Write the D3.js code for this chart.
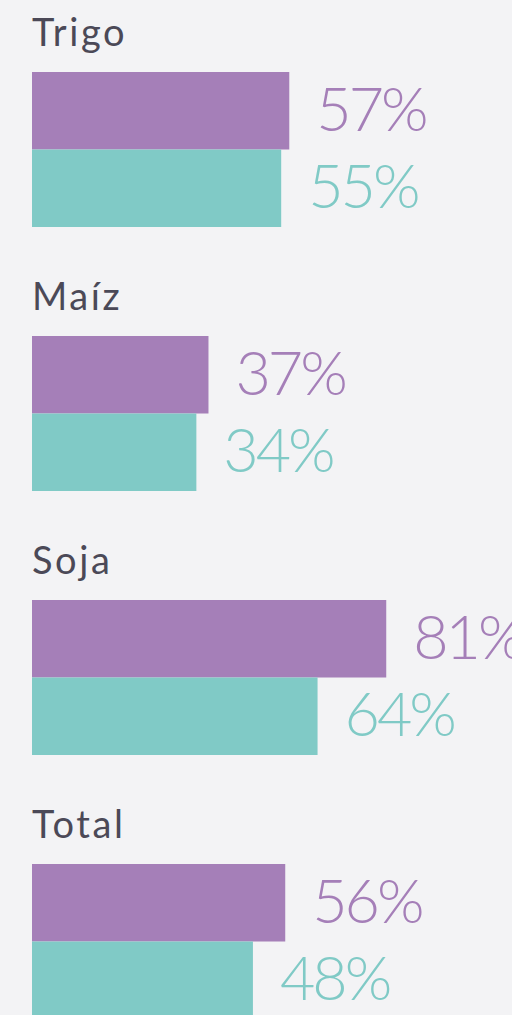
<!DOCTYPE html>
<meta charset="utf-8">
<style>
body { margin: 0; background: #f3f3f5; }
svg { display: block; background: #f3f3f5; }
.cat {
  font-family: Lato, sans-serif;
  font-size: 38px;
  fill: #4b4957;
  letter-spacing: 2.6px;
}
.pct {
  font-family: Lato, sans-serif;
  font-weight: 300;
  font-size: 61px;
  letter-spacing: -3px;
}
</style>
<body>
<div id="chart"></div>
<script src="https://cdn.jsdelivr.net/npm/d3@7"></script>
<script>

// values
var categories = ["Trigo", "Maíz", "Soja", "Total"];
var serieA = [57, 37, 81, 56];   // purple
var serieB = [55, 34, 64, 48];   // teal
var seriesKeys = ["a", "b"];
var colors = ["#a57fb8", "#80cac6"];

var width = 512, height = 1015,
    left = 32;

var svg = d3.select("#chart").append("svg")
    .attr("width", width)
    .attr("height", height);

var data = categories.map(function(c, i) {
  return {cat: c, values: [serieA[i], serieB[i]]};
});

// group position, one band per crop
var yGroup = d3.scaleBand()
    .domain(categories)
    .range([72, 72 + 264 * categories.length]);

// bars inside a group
var yBar = d3.scaleBand()
    .domain(seriesKeys)
    .range([0, 155]);

// bars don't start at zero length: 0% -> 27px
var x = d3.scaleLinear()
    .domain([0, 100])
    .range([27, 431]);

var group = svg.selectAll(".group")
    .data(data)
    .enter().append("g")
    .attr("class", "group")
    .attr("transform", function(d) { return "translate(" + left + "," + yGroup(d.cat) + ")"; });

group.append("text")
    .attr("class", "cat")
    .attr("x", 0)
    .attr("y", -26)
    .text(function(d) { return d.cat; });

var bar = group.selectAll(".bar")
    .data(function(d) { return d.values.map(function(v, i) { return {k: seriesKeys[i], v: v, i: i}; }); })
    .enter().append("g")
    .attr("class", "bar");

bar.append("rect")
    .attr("x", 0)
    .attr("y", function(d) { return yBar(d.k); })
    .attr("height", yBar.bandwidth())
    .attr("width", function(d) { return x(d.v); })
    .attr("fill", function(d) { return colors[d.i]; });

bar.append("text")
    .attr("class", "pct")
    .attr("x", function(d) { return x(d.v) + 27; })
    .attr("y", function(d) { return yBar(d.k) + yBar.bandwidth() / 2 + 20; })
    .attr("fill", function(d) { return colors[d.i]; })
    .text(function(d) { return d.v + "%"; });

</script>
